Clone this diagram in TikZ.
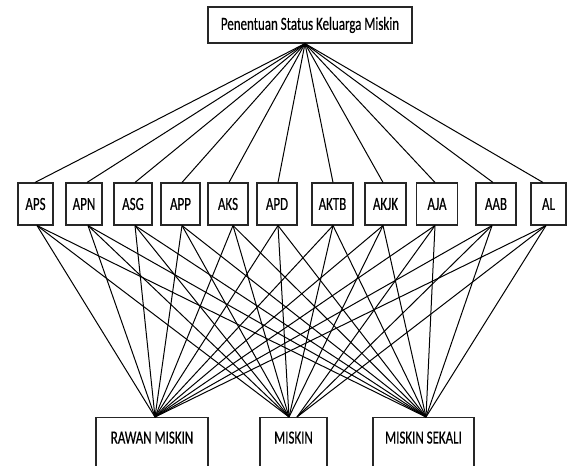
\documentclass[tikz,border=0pt]{standalone}
\usepackage{fontspec}
\setmainfont{Carlito}[FakeStretch=0.7,FakeBold=0.4]
\begin{document}
\begin{tikzpicture}[x=1pt,y=-1pt,
  box/.style={draw=black!85, line width=1.1pt, fill=white, inner sep=0pt,
    font=\fontsize{18.5}{20}\selectfont},
  midbox/.style={box, minimum height=42pt},
  lowbox/.style={box, anchor=north, text height=12pt, text depth=58pt, inner ysep=14pt},
  link/.style={draw=black, line width=1pt}]
\useasboundingbox (0,0) rectangle (571,466);
\clip (0,0) rectangle (571,466);
\node[box, minimum width=204pt, minimum height=36pt] (top) at (310,25) {Penentuan Status Keluarga Miskin};
\node[lowbox, minimum width=112pt] (rawan) at (152,417) {RAWAN MISKIN};
\node[lowbox, minimum width=67pt] (miskin) at (293.5,417) {MISKIN};
\node[lowbox, minimum width=101pt] (sekali) at (423.5,417) {MISKIN SEKALI};
\foreach \n/\t/\cx/\w/\a/\b/\m in {
  aps/APS/35.5/35/-0.5/1.5/-4.5,
  apn/APN/84/36/3/4/-4.5,
  asg/ASG/133/38/2/2/-4.5,
  app/APP/180.5/39/1.5/1.5/-4.5,
  aks/AKS/228/40/1/5/-4.5,
  apd/APD/277/40/1/1/-4.5,
  aktb/AKTB/332.5/41/0.5/0.5/-4.5,
  akjk/AKJK/385.5/41/-2.5/-2.5/-4.5,
  aja/AJA/437/41/-2/-2/3.5,
  aab/AAB/496/40/-3/-4/3.5,
  al/AL/548.5/35/-5.5/-2.5/3.5}{
  \node[midbox, minimum width=\w pt] (\n) at (\cx,204) {\t};
  \draw[link] ([xshift=-5pt]top.south) -- ([xshift=\a pt]\n.north);
  \draw[link] ([xshift=\b pt]\n.south) -- ([xshift=3pt]rawan.north);
  \draw[link] ([xshift=\b pt]\n.south) -- ([xshift=\m pt]miskin.north);
  \draw[link] ([xshift=\b pt]\n.south) -- ([xshift=2.5pt]sekali.north);
}
\end{tikzpicture}
\end{document}
